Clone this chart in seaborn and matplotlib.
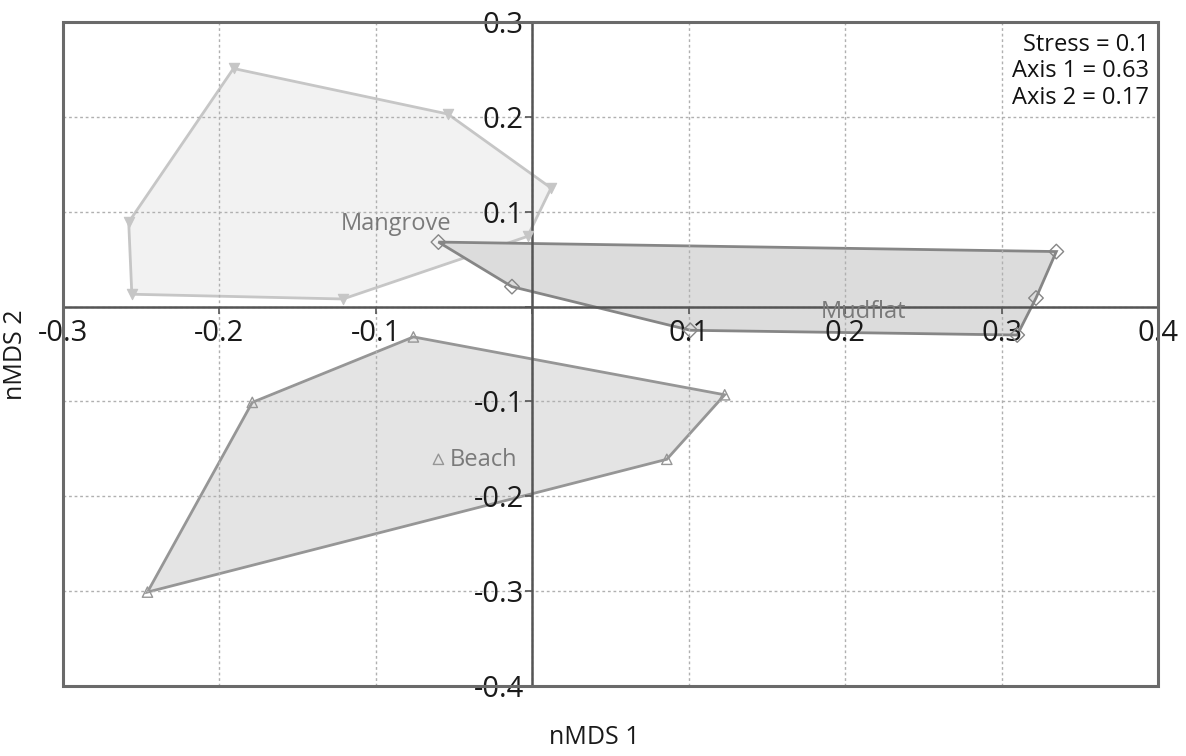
import numpy as np
import pandas as pd
import matplotlib
matplotlib.use("Agg")
import matplotlib.pyplot as plt
import matplotlib.patches as mpatches
from matplotlib.ticker import FuncFormatter
import seaborn as sns

# ---- data ----
mangrove_x = [-0.191, -0.054, 0.012, -0.003, -0.121, -0.256, -0.258]
mangrove_y = [0.251, 0.203, 0.125, 0.074, 0.008, 0.013, 0.089]
mudflat_x = [-0.060, 0.335, 0.322, 0.310, 0.101, -0.013]
mudflat_y = [0.068, 0.058, 0.009, -0.030, -0.025, 0.021]
beach_x = [-0.076, 0.123, 0.086, -0.246, -0.179, -0.060]
beach_y = [-0.032, -0.093, -0.161, -0.301, -0.101, -0.161]

group_names = ["Mangrove", "Mudflat", "Beach"]
label_pos_x = [-0.087, 0.212, -0.031]
label_pos_y = [0.087, -0.006, -0.162]
x_ticks = [-0.3, -0.2, -0.1, 0.0, 0.1, 0.2, 0.3, 0.4]
y_ticks = [-0.4, -0.3, -0.2, -0.1, 0.0, 0.1, 0.2, 0.3]
stats_text = ["Stress = 0.1", "Axis 1 = 0.63", "Axis 2 = 0.17"]

def convex_hull(pts):
    pts = sorted(set(pts))
    def cross(o, a, b):
        return (a[0]-o[0])*(b[1]-o[1]) - (a[1]-o[1])*(b[0]-o[0])
    lower, upper = [], []
    for p in pts:
        while len(lower) >= 2 and cross(lower[-2], lower[-1], p) <= 0:
            lower.pop()
        lower.append(p)
    for p in reversed(pts):
        while len(upper) >= 2 and cross(upper[-2], upper[-1], p) <= 0:
            upper.pop()
        upper.append(p)
    return lower[:-1] + upper[:-1]

sns.set_theme(style="white")
plt.rcParams['font.family'] = ['Open Sans', 'DejaVu Sans']
plt.rcParams['axes.unicode_minus'] = False

fig = plt.figure(figsize=(11.86, 7.56), dpi=100)
ax = fig.add_axes([63/1186, 1-686/756, (1158-63)/1186, (686-22)/756])

groups = [
    (mangrove_x, mangrove_y, "#f2f2f2", "#c6c6c6", "v", True),
    (mudflat_x, mudflat_y, "#dcdcdc", "#868686", "D", False),
    (beach_x, beach_y, "#e4e4e4", "#969696", "^", False),
]

for (gx, gy, fc, ec, mk, filled), name in zip(groups, group_names):
    hull = convex_hull(list(zip(gx, gy)))
    poly = mpatches.Polygon(hull, closed=True, facecolor=fc, edgecolor=ec,
                            linewidth=2, zorder=0.3)
    ax.add_patch(poly)
    df = pd.DataFrame({"x": gx, "y": gy})
    if filled:
        sns.scatterplot(data=df, x="x", y="y", marker=mk, s=55, color=ec,
                        edgecolor=ec, linewidth=0.8, ax=ax, zorder=3)
    else:
        sns.scatterplot(data=df, x="x", y="y", marker=mk, s=55,
                        facecolor="none", edgecolor=ec, linewidth=1.0,
                        ax=ax, zorder=3)

for name, lx, ly in zip(group_names, label_pos_x, label_pos_y):
    ax.text(lx, ly, name, fontsize=17, color="#7a7a7a", ha="center",
            va="center", zorder=4)

ax.set_xlim(-0.3, 0.4)
ax.set_ylim(-0.4, 0.3)
ax.set_xticks(x_ticks)
ax.set_yticks(y_ticks)

fmt = FuncFormatter(lambda v, p: "" if abs(v) < 1e-9 else f"{v:.1f}")
ax.xaxis.set_major_formatter(fmt)
ax.yaxis.set_major_formatter(fmt)

ax.grid(True, color="#b0b0b0", linestyle=(0, (2, 2)), linewidth=1)
ax.set_axisbelow(True)

for s in ["top", "right"]:
    ax.spines[s].set_visible(False)
ax.spines["left"].set_position(("data", 0))
ax.spines["bottom"].set_position(("data", 0))
for s in ["left", "bottom"]:
    ax.spines[s].set_color("#555555")
    ax.spines[s].set_linewidth(1.8)

ax.add_patch(mpatches.Rectangle((0, 0), 1, 1, transform=ax.transAxes,
                                fill=False, edgecolor="#6a6a6a",
                                linewidth=2.2, clip_on=False, zorder=5))

ax.tick_params(axis="both", which="both", direction="out", length=5,
               width=1.2, color="#555555", labelsize=21, labelcolor="#1a1a1a",
               bottom=True, left=True)
ax.tick_params(axis="x", pad=4)
ax.tick_params(axis="y", pad=1)

ax.set_xlabel("")
ax.set_ylabel("")
fig.text(594/1186, 1-737/756, "nMDS 1", fontsize=18, ha="center",
         va="center", color="#1a1a1a")
fig.text(16/1186, 1-355/756, "nMDS 2", fontsize=18, ha="center",
         va="center", rotation=90, color="#1a1a1a")

ax.text(0.992, 0.983, "\n".join(stats_text), transform=ax.transAxes,
        fontsize=17, ha="right", va="top", color="#111111",
        linespacing=1.12, zorder=6)

fig.savefig("out.png", dpi=100)
